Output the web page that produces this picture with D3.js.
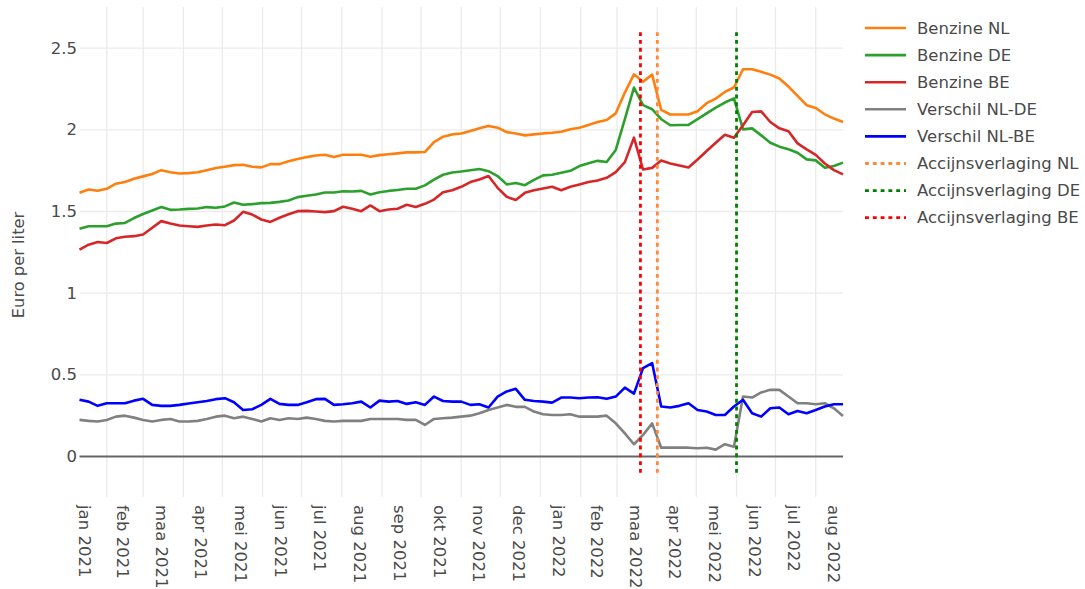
<!DOCTYPE html>
<html><head><meta charset="utf-8">
<script src="https://cdn.jsdelivr.net/npm/d3@7"></script>
<style>body{margin:0;background:#fff} svg{display:block;font-family:"DejaVu Sans",Verdana,sans-serif}</style>
</head><body><svg id="c" width="1085" height="589"></svg>
<script>
// ---- data ----
const firstWeek = "2021-01-11";   // weekly observations (Mondays)
const weekCount = 85;
const benzineNL = [1.615,1.635,1.627,1.639,1.67,1.68,1.70,1.715,1.73,1.753,1.74,1.733,1.735,1.74,1.753,1.766,1.774,1.784,1.786,1.774,1.77,1.79,1.79,1.807,1.821,1.833,1.843,1.847,1.833,1.847,1.847,1.847,1.835,1.845,1.85,1.856,1.862,1.862,
  1.864,1.925,1.958,1.972,1.978,1.993,2.009,2.024,2.013,1.986,1.978,1.966,1.972,1.978,1.982,1.988,2.003,2.013,2.03,2.048,
  2.06,2.101,2.228,2.34,2.294,2.338,2.122,2.094,2.094,2.094,2.114,2.163,2.191,2.232,2.259,2.371,2.371,2.355,2.338,2.314,2.265,2.208,2.151,2.134,2.095,2.069,2.048];
const benzineDE = [1.394,1.41,1.41,1.41,1.426,1.43,1.46,1.485,1.506,1.527,1.51,1.512,1.516,1.518,1.527,1.523,1.531,1.555,1.541,1.545,1.551,1.553,1.559,1.567,1.588,1.596,1.604,1.616,1.616,1.624,1.622,1.626,1.604,1.618,1.626,1.632,1.639,1.639,
  1.66,1.695,1.725,1.739,1.745,1.753,1.76,1.747,1.717,1.666,1.674,1.661,1.694,1.721,1.725,1.737,1.749,1.778,1.796,1.81,
  1.803,1.877,2.065,2.259,2.151,2.126,2.065,2.028,2.03,2.03,2.065,2.101,2.136,2.167,2.193,2.003,2.009,1.966,1.921,1.897,1.881,1.86,1.819,1.813,1.768,1.778,1.799];
const benzineBE = [1.267,1.297,1.313,1.307,1.336,1.345,1.349,1.359,1.40,1.441,1.426,1.414,1.41,1.406,1.414,1.42,1.416,1.445,1.498,1.481,1.451,1.436,1.462,1.483,1.502,1.504,1.50,1.496,
  1.502,1.529,1.517,1.502,1.537,1.502,1.512,1.517,1.541,1.527,1.547,1.573,1.618,1.63,1.651,1.68,1.696,1.717,1.645,1.59,1.57,1.614,1.63,1.641,1.651,1.63,1.651,1.665,1.68,
  1.69,1.706,1.741,1.802,1.952,1.757,1.767,1.812,1.794,1.781,1.769,1.818,1.87,1.921,1.97,1.952,2.028,2.109,2.113,2.048,2.009,1.991,1.917,1.88,1.847,1.794,1.753,1.727];
const verschilNLDE = [0.224,0.218,0.214,0.224,0.244,0.25,0.238,0.224,0.214,0.224,0.23,0.214,0.214,0.218,0.23,0.244,0.25,0.234,0.244,0.23,0.214,0.234,0.224,0.234,0.23,0.238,0.23,0.218,0.214,
  0.218,0.218,0.218,0.23,0.23,0.23,0.23,0.224,0.224,0.193,0.23,0.234,0.238,0.244,0.25,0.265,0.285,0.30,0.316,0.304,0.304,0.275,0.259,0.254,0.254,0.259,0.244,0.244,
  0.244,0.25,0.203,0.142,0.075,0.132,0.203,0.054,0.054,0.054,0.054,0.05,0.054,0.042,0.075,0.06,0.367,0.361,0.392,0.408,0.408,0.367,0.326,0.326,0.32,0.326,0.295,0.248];
const verschilNLBE = [0.347,0.336,0.31,0.326,0.326,0.326,0.342,0.353,0.316,0.31,0.31,0.316,0.324,0.332,0.34,0.351,0.357,0.332,0.285,0.289,0.316,0.353,0.322,0.316,0.316,0.332,0.351,0.353,0.316,
  0.32,0.326,0.336,0.30,0.342,0.336,0.34,0.322,0.332,0.316,0.367,0.34,0.336,0.336,0.316,0.32,0.30,0.367,0.398,0.414,0.347,0.34,0.336,0.33,0.361,0.361,0.357,0.361,
  0.363,0.353,0.367,0.422,0.385,0.541,0.572,0.306,0.30,0.31,0.326,0.285,0.275,0.254,0.254,0.306,0.347,0.265,0.244,0.295,0.30,0.259,0.279,0.265,0.285,0.306,0.32,0.32];
const seriesNames = ["Benzine NL","Benzine DE","Benzine BE","Verschil NL-DE","Verschil NL-BE"];
const cutNames = ["Accijnsverlaging NL","Accijnsverlaging DE","Accijnsverlaging BE"];
const cutDates = ["2022-04-01","2022-06-01","2022-03-19"];
const cutSpan = [-0.1, 2.6];
const monthTickLabels = ["jan 2021","feb 2021","maa 2021","apr 2021","mei 2021","jun 2021","jul 2021","aug 2021","sep 2021","okt 2021","nov 2021","dec 2021",
  "jan 2022","feb 2022","maa 2022","apr 2022","mei 2022","jun 2022","jul 2022","aug 2022"];
const firstMonth = "2021-01-01";
const yTickValues = [0,0.5,1,1.5,2,2.5];
const yTitle = "Euro per liter";

// ---- styles ----
const seriesColors = ["#ff7f0e","#2ca02c","#d62728","#808080","#0000ff"];
const cutColors = ["#fb8a3c","#008000","#ff0000"];
const FS = 16.5;

const svg = d3.select("#c");
const L = 79.5, R = 843, T = 7, B = 497;
const parse = d3.utcParse("%Y-%m-%d");
const start = parse(firstWeek);
const dates = d3.range(weekCount).map(i => d3.utcDay.offset(start, 7*i));
const x = d3.scaleUtc().domain([dates[0], dates[dates.length-1]]).range([L, R]);
const y = d3.scaleLinear().domain([-0.248, 2.752]).range([B, T]);

// month boundaries
const m0 = parse(firstMonth);
const months = monthTickLabels.map((_, i) => d3.utcMonth.offset(m0, i));
const grid = svg.append("g");
months.forEach(m => {
  const xv = x(m);
  if (xv >= L && xv <= R) grid.append("line").attr("x1", xv).attr("x2", xv).attr("y1", T).attr("y2", B)
    .attr("stroke", "#ebebeb").attr("stroke-width", 1.3);
});
yTickValues.forEach(v => {
  if (v !== 0) grid.append("line").attr("x1", L).attr("x2", R).attr("y1", y(v)).attr("y2", y(v))
    .attr("stroke", "#ebebeb").attr("stroke-width", 1.3);
});
// zero line
svg.append("line").attr("x1", L).attr("x2", R).attr("y1", y(0)).attr("y2", y(0))
  .attr("stroke", "#666").attr("stroke-width", 1.8);

// y tick labels
yTickValues.forEach(v => {
  svg.append("text").attr("x", 77).attr("y", y(v)).attr("text-anchor", "end")
    .attr("dominant-baseline", "central").attr("font-size", FS).attr("fill", "#4a4a4a").text(d3.format("~g")(v));
});
// x tick labels (period mode: centred on month)
months.forEach((m, i) => {
  const mid = new Date((m.getTime() + d3.utcMonth.offset(m, 1).getTime()) / 2);
  const xv = x(mid) - 2;
  svg.append("text").attr("transform", `translate(${xv},505) rotate(90)`)
    .attr("text-anchor", "start").attr("dominant-baseline", "central")
    .attr("font-size", FS).attr("fill", "#4a4a4a").text(monthTickLabels[i]);
});
// y title
svg.append("text").attr("transform", "translate(18,265) rotate(-90)").attr("text-anchor", "middle")
  .attr("dominant-baseline", "central").attr("font-size", 16.3).attr("fill", "#4a4a4a").text(yTitle);

// series
const allSeries = [benzineNL, benzineDE, benzineBE, verschilNLDE, verschilNLBE];
const line = d3.line().x((d, i) => x(dates[i])).y(d => y(d));
const plot = svg.append("g");
allSeries.forEach((s, k) => {
  plot.append("path").attr("d", line(s)).attr("fill", "none").attr("stroke", seriesColors[k])
    .attr("stroke-width", 2.6).attr("stroke-linejoin", "round");
});
// excise cut markers
cutDates.forEach((d, k) => {
  const xv = x(parse(d));
  plot.append("line").attr("x1", xv).attr("x2", xv).attr("y1", y(cutSpan[0])).attr("y2", y(cutSpan[1]))
    .attr("stroke", cutColors[k]).attr("stroke-width", 2.8).attr("stroke-dasharray", "3.9,3.9");
});

// legend
const leg = svg.append("g");
const items = seriesNames.map((n, i) => ({n, c: seriesColors[i], dash: null}))
  .concat(cutNames.map((n, i) => ({n, c: cutColors[i], dash: "3.9,3.9"})));
items.forEach((it, i) => {
  const yy = 28 + i * 27.1;
  const l = leg.append("line").attr("x1", 865).attr("x2", 906).attr("y1", yy).attr("y2", yy)
    .attr("stroke", it.c).attr("stroke-width", it.dash ? 2.8 : 2.6);
  if (it.dash) l.attr("stroke-dasharray", it.dash);
  leg.append("text").attr("x", 917).attr("y", yy).attr("dominant-baseline", "central")
    .attr("font-size", FS).attr("fill", "#4a4a4a").text(it.n);
});
</script></body></html>
